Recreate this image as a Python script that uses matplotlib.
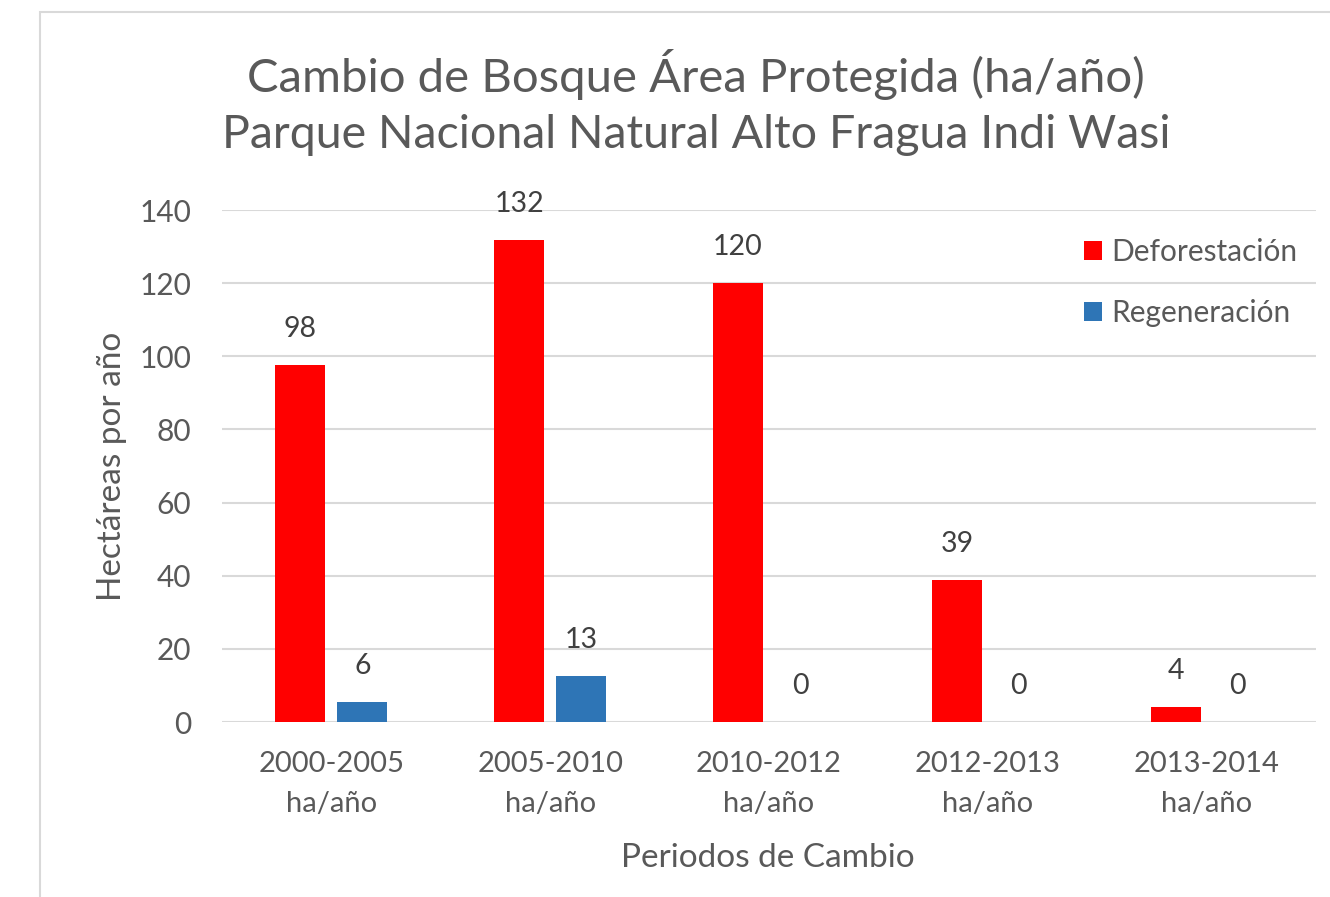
import matplotlib.pyplot as plt
from matplotlib.patches import Rectangle
import numpy as np

plt.rcParams['font.family'] = ['Lato', 'DejaVu Sans']

periodos = ['2000-2005\nha/año', '2005-2010\nha/año', '2010-2012\nha/año',
            '2012-2013\nha/año', '2013-2014\nha/año']
deforestacion = [97.6, 131.8, 120.0, 38.8, 4.1]
regeneracion = [5.6, 12.6, 0, 0, 0]
yticks = [0, 20, 40, 60, 80, 100, 120, 140]

gris = '#595959'
W, H = 1330, 897

fig = plt.figure(figsize=(W / 100, H / 100), dpi=100)
ax = fig.add_axes([222 / W, 1 - 722 / H, (1316 - 222) / W, (722 - 210) / H])

# marco del grafico
fig.patches.append(Rectangle((40 / W, -0.1), 1.2, 1 - 12 / H + 0.1, transform=fig.transFigure,
                             fill=False, edgecolor='#d9d9d9', lw=1.5))

x = np.arange(len(periodos))
bw = 0.228
off = 0.1416
b1 = ax.bar(x - off, deforestacion, bw, color='#ff0000', label='Deforestación', zorder=3)
b2 = ax.bar(x + off, regeneracion, bw, color='#2e75b6', label='Regeneración', zorder=3)

for bars in (b1, b2):
    for r in bars:
        h = r.get_height()
        ax.annotate('%.0f' % h, (r.get_x() + r.get_width() / 2, h), xytext=(0, 36),
                    textcoords='offset pixels', ha='center', va='center',
                    fontsize=20.5, color='#404040')

ax.set_xlim(-0.5, len(periodos) - 0.5)
ax.set_ylim(0, 140)
ax.set_yticks(yticks)
ax.set_xticks(x)
ax.set_xticklabels(periodos, fontsize=21, color=gris, linespacing=1.65)
ax.tick_params(axis='y', labelsize=21.5, labelcolor=gris, length=0, pad=22)
ax.tick_params(axis='x', length=0, pad=21)
ax.grid(axis='y', color='#d9d9d9', lw=1.5, zorder=0)
for s in ax.spines.values():
    s.set_visible(False)

fig.text(112 / W, 1 - 466 / H, 'Hectáreas por año', rotation=90, ha='center', va='center',
         fontsize=24, color=gris)
fig.text(768 / W, 1 - 858 / H, 'Periodos de Cambio', ha='center', va='center',
         fontsize=24, color=gris)
fig.text(696 / W, 1 - 75 / H, 'Cambio de Bosque Área Protegida (ha/año)', ha='center',
         va='center', fontsize=34, color=gris)
fig.text(696 / W, 1 - 135 / H, 'Parque Nacional Natural Alto Fragua Indi Wasi', ha='center',
         va='center', fontsize=33.5, color=gris)

leg = ax.legend(loc='upper left', bbox_to_anchor=(1072 / W, 1 - 226 / H),
                bbox_transform=fig.transFigure, frameon=False, fontsize=21.5,
                handlelength=0.6, handleheight=0.6, handletextpad=0.3, labelspacing=1.12,
                borderaxespad=0)
for t in leg.get_texts():
    t.set_color(gris)

fig.savefig('out.png', dpi=100)
